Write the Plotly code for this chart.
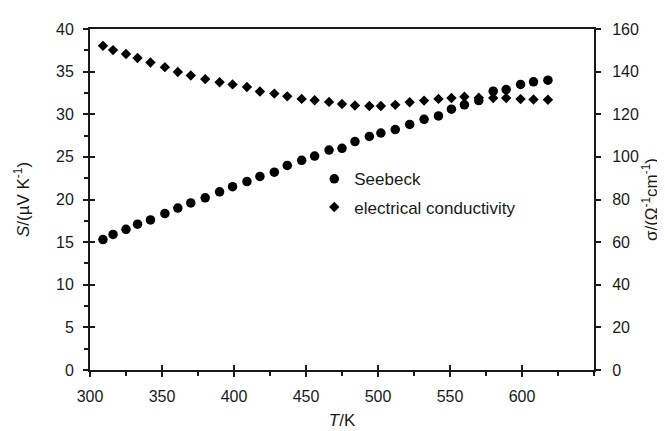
import plotly.graph_objects as go

# Temperature (K)
T = [309, 316, 325, 333, 342, 352, 361, 370, 380, 390, 399, 409, 418, 428, 437,
     447, 456, 466, 475, 484, 494, 502, 512, 522, 532, 542, 551, 560, 570, 580,
     589, 599, 608, 618]
# Seebeck coefficient (µV/K)
seebeck = [15.3, 15.9, 16.5, 17.1, 17.6, 18.35, 19.0, 19.6, 20.2, 20.9, 21.5, 22.1,
           22.7, 23.2, 24.0, 24.6, 25.1, 25.8, 26.0, 26.8, 27.4, 27.8, 28.2, 28.8,
           29.4, 29.8, 30.6, 31.1, 31.6, 32.7, 32.9, 33.5, 33.8, 34.0]
# Electrical conductivity (S/cm)
sigma = [152.1, 150.1, 148.3, 146.4, 144.3, 142.1, 139.8, 138.2, 136.5, 135.0, 134.0,
         132.8, 130.7, 129.7, 128.4, 127.2, 126.6, 125.8, 124.8, 124.1, 123.9, 123.9,
         124.4, 125.6, 126.4, 127.2, 127.6, 128.2, 127.8, 127.6, 127.6, 127.1, 126.9,
         126.8]

x_ticks = [300, 350, 400, 450, 500, 550, 600]
y1_ticks = [0, 5, 10, 15, 20, 25, 30, 35, 40]
y2_ticks = [0, 20, 40, 60, 80, 100, 120, 140, 160]

FONT = "Liberation Sans, Arial, sans-serif"
AX = "#1a1a1a"

fig = go.Figure()
fig.add_trace(go.Scatter(x=T, y=seebeck, mode="markers", name="Seebeck",
                         legendgroup="a",
                         marker=dict(symbol="circle", size=9.5, color="black"),
                         xaxis="x", yaxis="y"))
fig.add_trace(go.Scatter(x=T, y=sigma, mode="markers", name="electrical conductivity",
                         legendgroup="b",
                         marker=dict(symbol="diamond", size=8, color="black"),
                         xaxis="x", yaxis="y2"))
# helper (invisible) trace to show inward halves of crossing ticks
fig.add_trace(go.Scatter(x=[T[0]], y=[seebeck[0]], mode="markers", showlegend=False,
                         marker=dict(opacity=0), hoverinfo="skip",
                         xaxis="x3", yaxis="y3"))

fig.update_layout(
    width=665, height=431,
    margin=dict(l=82, r=79, t=21, b=61),
    paper_bgcolor="white", plot_bgcolor="white",
    font=dict(family=FONT, size=16, color="#1a1a1a"),
    showlegend=True,
    legend=dict(x=0.445, y=0.612, xanchor="left", yanchor="top",
                bgcolor="rgba(0,0,0,0)", font=dict(size=17, family=FONT),
                traceorder="grouped", tracegroupgap=3, itemwidth=30),
    xaxis=dict(range=[300, 650], tickvals=x_ticks, ticks="outside", ticklen=5,
               tickwidth=1.5, tickcolor=AX,
               minor=dict(dtick=25, tick0=300, ticks="outside", ticklen=4,
                          tickwidth=1.5, tickcolor=AX),
               showline=True, linewidth=2, linecolor=AX, mirror=True,
               showgrid=False, zeroline=False, ticklabelstandoff=6,
               title=dict(text="<i>T</i>/K", font=dict(size=17), standoff=10)),
    yaxis=dict(range=[0, 40], tickvals=y1_ticks, ticks="outside", ticklen=5,
               tickwidth=1.5, tickcolor=AX,
               minor=dict(dtick=2.5, tick0=0, ticks="outside", ticklen=4,
                          tickwidth=1.5, tickcolor=AX),
               showline=True, linewidth=2, linecolor=AX,
               showgrid=False, zeroline=False, ticklabelstandoff=6,
               title=dict(text="<i>S</i>/(µV K<sup>-1</sup>)", font=dict(size=17),
                          standoff=22)),
    yaxis2=dict(range=[0, 160], tickvals=y2_ticks, overlaying="y", side="right",
                ticks="outside", ticklen=5, tickwidth=1.5, tickcolor=AX,
                showline=True, linewidth=2, linecolor=AX,
                showgrid=False, zeroline=False, ticklabelstandoff=8,
                title=dict(text="σ/(Ω<sup>-1</sup>cm<sup>-1</sup>)", font=dict(size=17),
                           standoff=4)),
    xaxis3=dict(range=[300, 650], tickvals=x_ticks, overlaying="x", ticks="inside",
                ticklen=5, tickwidth=1.5, tickcolor=AX, showticklabels=False,
                showline=False, showgrid=False, zeroline=False),
    yaxis3=dict(range=[0, 40], tickvals=y1_ticks, overlaying="y", ticks="inside",
                ticklen=5, tickwidth=1.5, tickcolor=AX, showticklabels=False,
                showline=False, showgrid=False, zeroline=False),
)

fig.write_html("out.html")
